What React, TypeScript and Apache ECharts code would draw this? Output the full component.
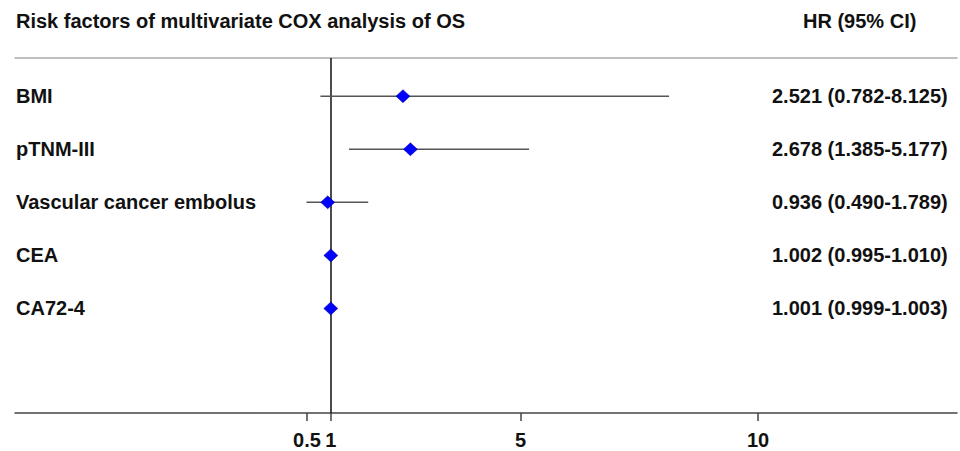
import React, { useEffect, useRef } from "react";
import * as echarts from "echarts";

const factors = ["BMI", "pTNM-III", "Vascular cancer embolus", "CEA", "CA72-4"];
const hr = [2.521, 2.678, 0.936, 1.002, 1.001];
const lower = [0.782, 1.385, 0.49, 0.995, 0.999];
const upper = [8.125, 5.177, 1.789, 1.01, 1.003];
const xTicks = [0.5, 1, 5, 10];
const titleText = "Risk factors of multivariate COX analysis of OS";
const headerText = "HR (95% CI)";

const fmt = (v: number) => v.toFixed(3);
const hrLabels = factors.map(
  (_, i) => `${fmt(hr[i])} (${fmt(lower[i])}-${fmt(upper[i])})`
);

const FONT = "'Liberation Sans', Arial, Helvetica, sans-serif";

export default function App() {
  const ref = useRef<HTMLDivElement>(null);
  useEffect(() => {
    if (!ref.current) return;
    const chart = echarts.init(ref.current, null, { renderer: "svg" });
    const rowIdx = factors.map((_, i) => i);
    const option: any = {
      animation: false,
      backgroundColor: "#ffffff",
      textStyle: { fontFamily: FONT },
      title: [
        {
          text: titleText,
          left: 16,
          top: 11,
          padding: 0,
          textStyle: { fontSize: 20, fontWeight: "bold", color: "#111", fontFamily: FONT },
        },
        {
          text: headerText,
          left: 803,
          top: 11,
          padding: 0,
          textStyle: { fontSize: 20, fontWeight: "bold", color: "#111", fontFamily: FONT },
        },
      ],
      grid: {
        left: 15,
        right: 3,
        top: 58,
        bottom: 38,
        containLabel: false,
        outerBoundsMode: "none",
      },
      xAxis: [
        {
          type: "value",
          position: "bottom",
          min: -5.65,
          max: 14.19,
          splitLine: { show: false },
          axisLine: { show: true, onZero: false, lineStyle: { color: "#444", width: 1.5 } },
          axisTick: {
            show: true,
            customValues: xTicks,
            length: 8,
            lineStyle: { color: "#444", width: 1.5 },
          },
          axisLabel: {
            customValues: xTicks,
            formatter: (v: number) => String(v),
            margin: 17,
            fontSize: 20,
            fontWeight: "bold",
            color: "#111",
            fontFamily: FONT,
          },
        },
        {
          type: "value",
          position: "top",
          min: -5.65,
          max: 14.19,
          splitLine: { show: false },
          axisLine: { show: true, onZero: false, lineStyle: { color: "#aaa", width: 1.5 } },
          axisTick: { show: false },
          axisLabel: { show: false },
        },
      ],
      yAxis: [
        {
          type: "value",
          inverse: true,
          min: -0.72,
          max: 5.97,
          position: "left",
          splitLine: { show: false },
          axisLine: { show: false, onZero: false },
          axisTick: { show: false },
          axisLabel: {
            customValues: rowIdx,
            formatter: (v: number) => factors[Math.round(v)] ?? "",
            align: "left",
            margin: -1,
            fontSize: 20,
            fontWeight: "bold",
            color: "#111",
            fontFamily: FONT,
          },
        },
        {
          type: "value",
          inverse: true,
          min: -0.72,
          max: 5.97,
          position: "right",
          splitLine: { show: false },
          axisLine: { show: false, onZero: false },
          axisTick: { show: false },
          axisLabel: {
            customValues: rowIdx,
            formatter: (v: number) => hrLabels[Math.round(v)] ?? "",
            align: "left",
            margin: -185,
            fontSize: 20,
            fontWeight: "bold",
            color: "#111",
            fontFamily: FONT,
          },
        },
      ],
      series: [
        {
          type: "custom",
          xAxisIndex: 0,
          yAxisIndex: 0,
          encode: { x: [0, 1], y: 2 },
          data: rowIdx.map((i) => [lower[i], upper[i], i]),
          renderItem: (params: any, api: any) => {
            const a = api.coord([api.value(0), api.value(2)]);
            const b = api.coord([api.value(1), api.value(2)]);
            return {
              type: "line",
              shape: { x1: a[0], y1: a[1], x2: b[0], y2: b[1] },
              style: { stroke: "#555", lineWidth: 1.5 },
            };
          },
          z: 2,
        },
        {
          type: "scatter",
          xAxisIndex: 0,
          yAxisIndex: 0,
          symbol: "diamond",
          symbolSize: [14, 13],
          itemStyle: { color: "#0000ff", opacity: 1, borderColor: "#00008a", borderWidth: 0.5 },
          data: rowIdx.map((i) => [hr[i], i]),
          z: 5,
          markLine: {
            silent: true,
            symbol: "none",
            label: { show: false },
            lineStyle: { color: "#111", width: 1.5, type: "solid", opacity: 1 },
            data: [{ xAxis: 1 }],
            z: 1,
          },
        },
      ],
    };
    chart.setOption(option);
    return () => chart.dispose();
  }, []);
  return (
    <div
      ref={ref}
      style={{ position: "fixed", left: 0, top: 0, width: 960, height: 451, background: "#fff" }}
    />
  );
}
